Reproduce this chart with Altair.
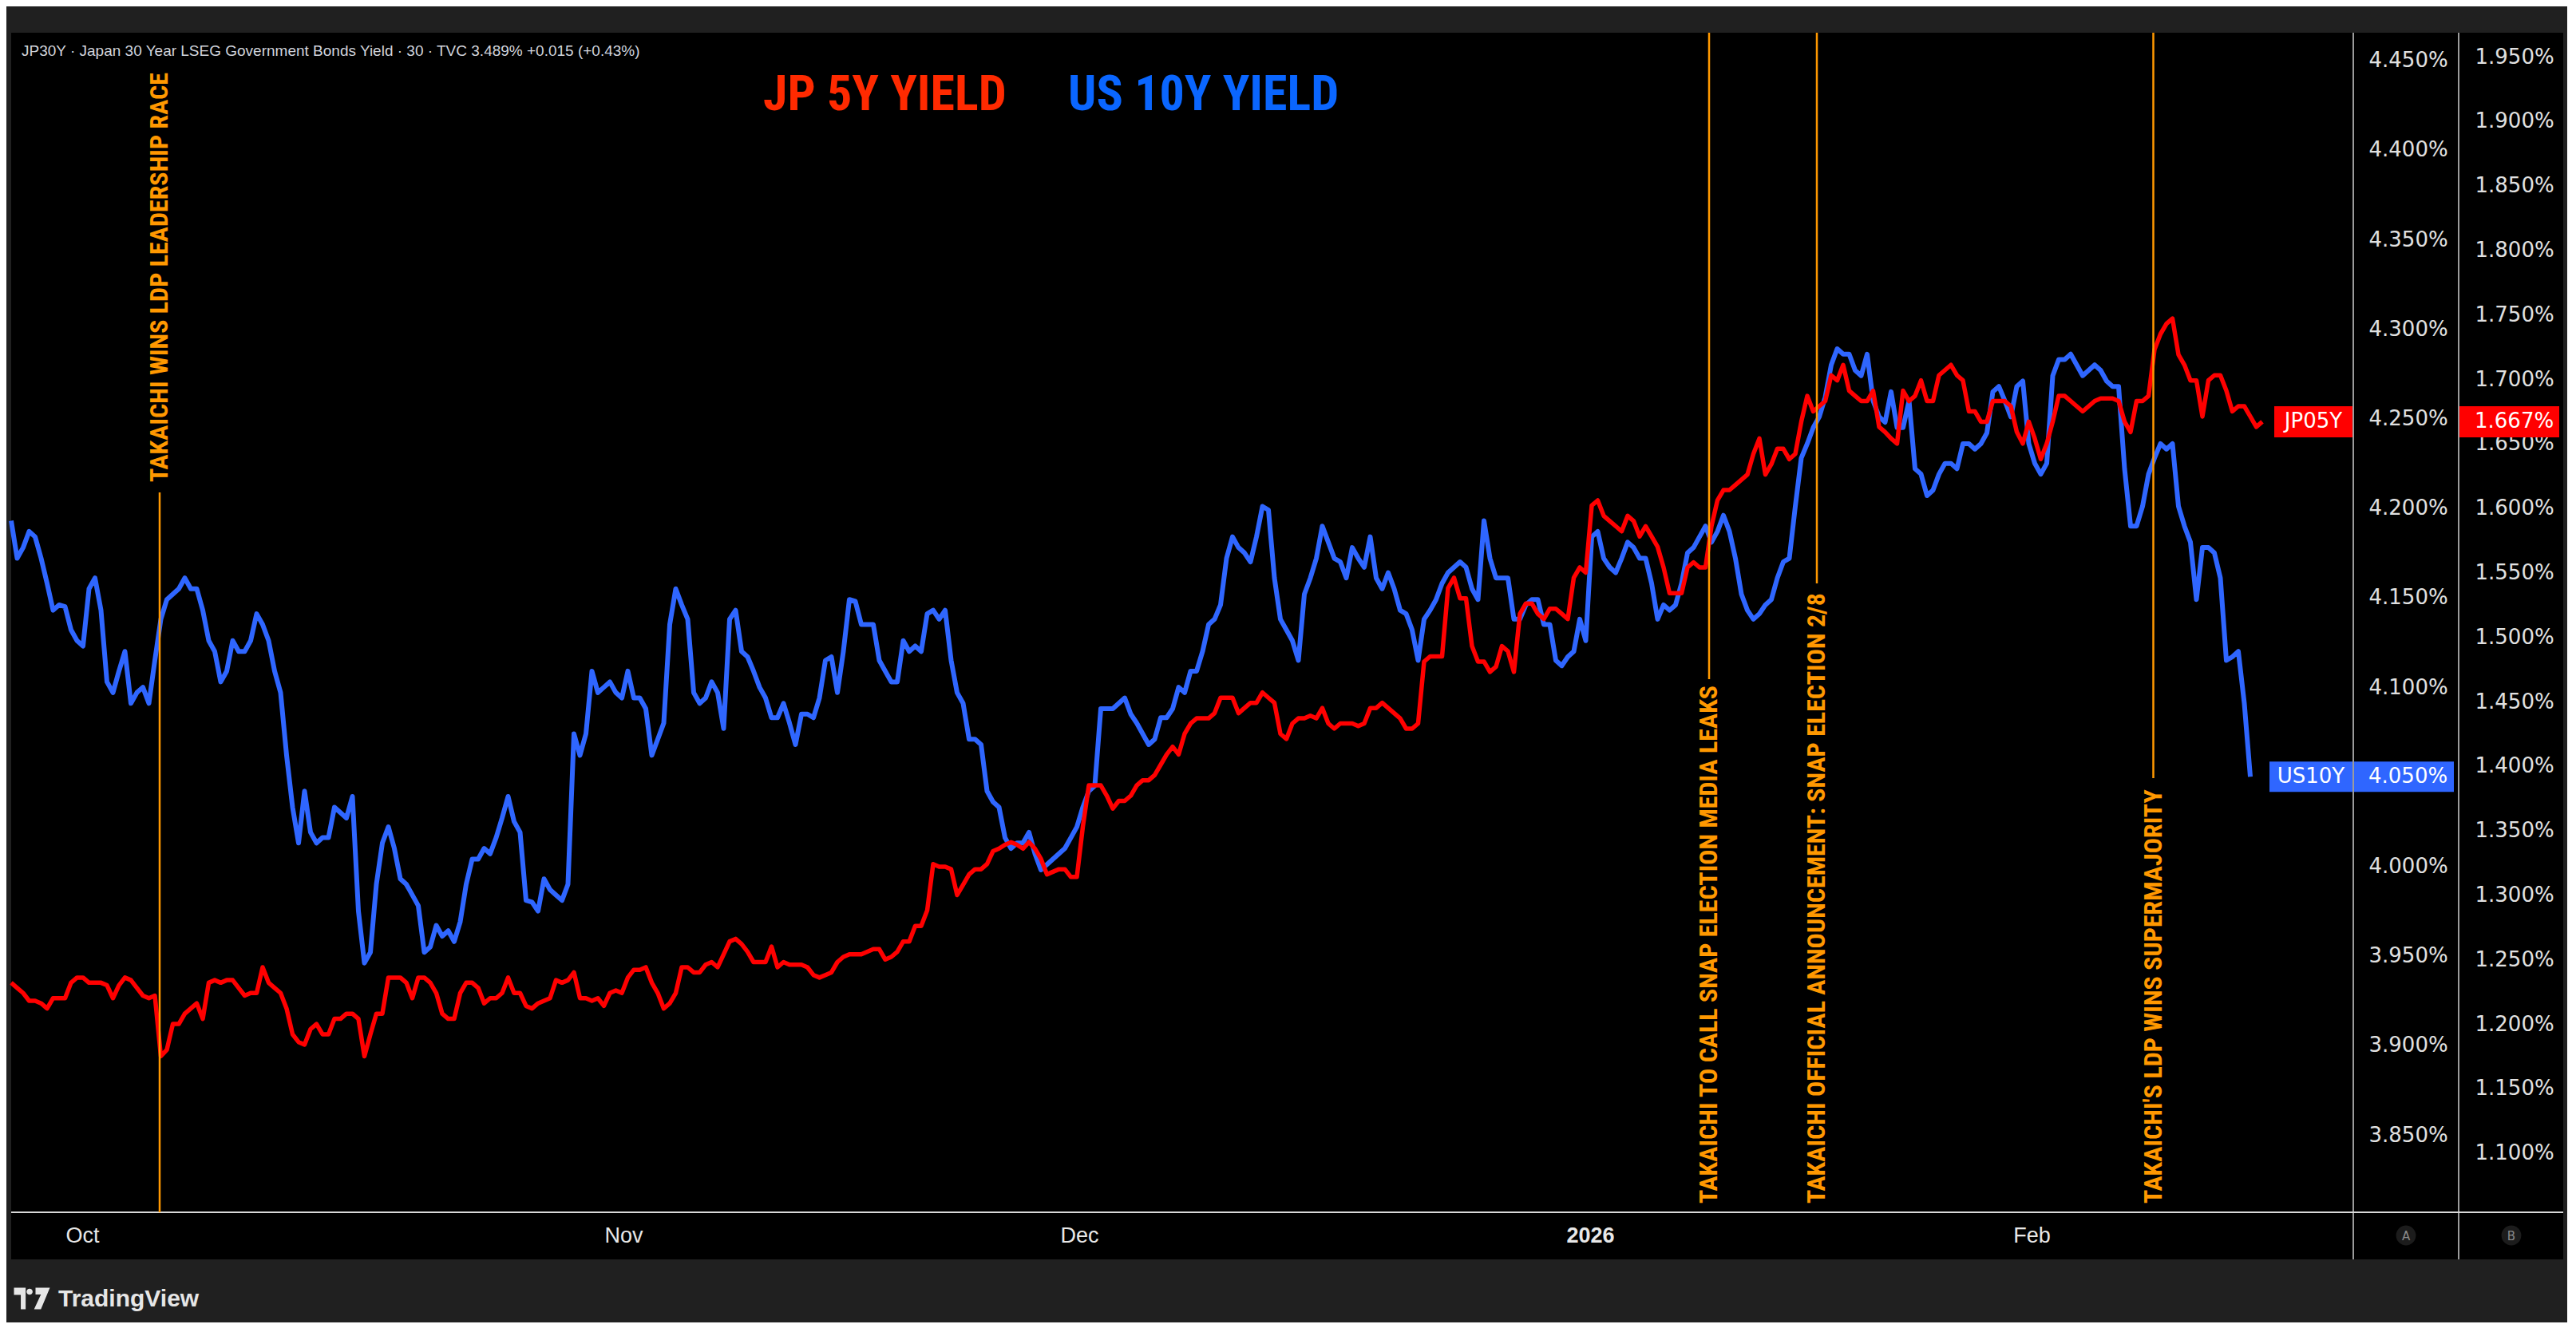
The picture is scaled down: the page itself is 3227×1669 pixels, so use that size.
import altair as alt
import pandas as pd

# ---------------- data ----------------
# values at every sample step (k = 0, 1, 2 ...)
us_vals = [
    4.193, 4.178, 4.184, 4.158, 4.146, 4.132, 4.123, 4.161, 4.103, 4.109, 4.091, 4.100, 4.115, 4.149, 4.155, 4.155, 4.143,
    4.120, 4.109, 4.120, 4.126, 4.135, 4.109, 4.062, 4.013, 4.019, 4.016, 4.033, 4.027, 3.975, 3.952, 4.013, 4.010,
    3.990, 3.978, 3.955, 3.961, 3.958, 3.990, 4.004, 4.007, 4.027, 4.025, 3.981, 3.975, 3.987, 3.981, 4.074, 4.074,
    4.097, 4.103, 4.094, 4.094, 4.088, 4.071, 4.135, 4.146, 4.097, 4.094, 4.097, 4.138, 4.120, 4.109, 4.094, 4.083, 4.080,
    4.085, 4.083, 4.115, 4.097, 4.149, 4.135, 4.135, 4.109, 4.103, 4.120, 4.120, 4.143, 4.143, 4.097, 4.071, 4.068,
    4.036, 4.016, 4.013, 4.019, 3.998, 4.004, 4.010, 4.022, 4.042, 4.088, 4.088, 4.094, 4.080, 4.068, 4.083, 4.088, 4.097,
    4.109, 4.135, 4.146, 4.184, 4.175, 4.184, 4.199, 4.138, 4.126, 4.152, 4.172, 4.181, 4.170, 4.178, 4.167, 4.161,
    4.164, 4.143, 4.132, 4.138, 4.149, 4.164, 4.170, 4.155, 4.193, 4.161, 4.161, 4.138, 4.149, 4.135, 4.115, 4.117, 4.138,
    4.184, 4.172, 4.164, 4.181, 4.172, 4.158, 4.146, 4.146, 4.175, 4.184, 4.181, 4.196, 4.172, 4.143, 4.141, 4.149,
    4.170, 4.201, 4.236, 4.251, 4.280, 4.286, 4.277, 4.286, 4.251, 4.265, 4.245, 4.222, 4.207, 4.219, 4.225, 4.236,
    4.233, 4.242, 4.268, 4.251, 4.271, 4.225, 4.225, 4.283, 4.286, 4.274, 4.280, 4.271, 4.268, 4.190, 4.201, 4.228,
    4.233, 4.201, 4.181, 4.178, 4.175, 4.115, 4.120, 4.050,
]
# values half-way between consecutive steps (k + 0.5)
us_mid = [
    4.172, 4.187, 4.172, 4.143, 4.145, 4.126, 4.155, 4.143, 4.097, 4.120, 4.097, 4.091, 4.138, 4.152, 4.161, 4.155,
    4.126, 4.103, 4.126, 4.120, 4.141, 4.126, 4.097, 4.033, 4.042, 4.013, 4.016, 4.030, 4.039, 3.946, 3.990, 4.022, 3.993,
    3.984, 3.952, 3.967, 3.964, 3.969, 4.004, 4.010, 4.016, 4.039, 4.019, 3.980, 3.993, 3.984, 3.990, 4.062, 4.109,
    4.100, 4.097, 4.109, 4.094, 4.062, 4.080, 4.155, 4.138, 4.091, 4.103, 4.077, 4.143, 4.117, 4.100, 4.083, 4.091, 4.068,
    4.085, 4.094, 4.117, 4.120, 4.148, 4.135, 4.115, 4.103, 4.126, 4.123, 4.141, 4.138, 4.115, 4.091, 4.071, 4.042,
    4.033, 4.010, 4.013, 4.007, 4.001, 4.007, 4.016, 4.033, 4.045, 4.088, 4.091, 4.085, 4.074, 4.071, 4.083, 4.100, 4.109,
    4.120, 4.138, 4.172, 4.178, 4.170, 4.201, 4.161, 4.132, 4.115, 4.161, 4.190, 4.172, 4.161, 4.172, 4.184, 4.155,
    4.155, 4.141, 4.115, 4.143, 4.158, 4.167, 4.167, 4.149, 4.172, 4.161, 4.138, 4.146, 4.149, 4.135, 4.112, 4.120,
    4.126, 4.187, 4.167, 4.172, 4.178, 4.172, 4.138, 4.143, 4.158, 4.178, 4.190, 4.187, 4.187, 4.152, 4.138, 4.146,
    4.161, 4.172, 4.228, 4.245, 4.262, 4.289, 4.286, 4.274, 4.260, 4.248, 4.245, 4.260, 4.219, 4.210, 4.225, 4.222, 4.236,
    4.236, 4.265, 4.260, 4.268, 4.236, 4.219, 4.274, 4.283, 4.280, 4.277, 4.277, 4.268, 4.222, 4.190, 4.219, 4.236,
    4.236, 4.190, 4.149, 4.178, 4.161, 4.117, 4.091,
]
jp_vals = [
    1.232, 1.224, 1.218, 1.212, 1.220, 1.232, 1.236, 1.232, 1.230, 1.230, 1.234, 1.222, 1.222, 1.180, 1.200, 1.212, 1.204,
    1.234, 1.234, 1.228, 1.224, 1.244, 1.228, 1.212, 1.186, 1.196, 1.192, 1.204, 1.208, 1.204, 1.192, 1.208, 1.236,
    1.232, 1.236, 1.232, 1.208, 1.204, 1.232, 1.228, 1.220, 1.224, 1.224, 1.214, 1.216, 1.220, 1.232, 1.240, 1.220,
    1.220, 1.224, 1.224, 1.242, 1.244, 1.224, 1.216, 1.244, 1.240, 1.246, 1.244, 1.264, 1.262, 1.248, 1.248, 1.244, 1.246,
    1.246, 1.238, 1.238, 1.248, 1.254, 1.254, 1.258, 1.250, 1.256, 1.264, 1.276, 1.324, 1.322, 1.300, 1.316, 1.320,
    1.334, 1.339, 1.339, 1.341, 1.328, 1.318, 1.320, 1.314, 1.385, 1.385, 1.367, 1.373, 1.385, 1.389, 1.401, 1.415, 1.425,
    1.437, 1.437, 1.453, 1.453, 1.445, 1.449, 1.453, 1.425, 1.433, 1.437, 1.437, 1.433, 1.433, 1.433, 1.433, 1.445,
    1.445, 1.437, 1.429, 1.481, 1.485, 1.538, 1.530, 1.493, 1.481, 1.477, 1.489, 1.518, 1.526, 1.514, 1.522, 1.514, 1.554,
    1.602, 1.594, 1.586, 1.594, 1.578, 1.578, 1.554, 1.534, 1.554, 1.554, 1.586, 1.614, 1.618, 1.626, 1.654, 1.634,
    1.646, 1.642, 1.687, 1.679, 1.703, 1.711, 1.687, 1.683, 1.663, 1.654, 1.691, 1.687, 1.683, 1.703, 1.711, 1.699,
    1.675, 1.667, 1.683, 1.679, 1.650, 1.654, 1.650, 1.687, 1.683, 1.675, 1.683, 1.685, 1.683, 1.659, 1.683, 1.723,
    1.743, 1.719, 1.699, 1.671, 1.703, 1.691, 1.679, 1.671, 1.667,
]
jp_mid = [
    1.228, 1.218, 1.216, 1.220, 1.220, 1.236, 1.232, 1.232, 1.220, 1.236, 1.228, 1.220, 1.175, 1.200, 1.208, 1.216,
    1.232, 1.232, 1.234, 1.222, 1.224, 1.232, 1.224, 1.192, 1.184, 1.200, 1.192, 1.204, 1.208, 1.175, 1.208, 1.236, 1.236,
    1.220, 1.236, 1.224, 1.204, 1.224, 1.232, 1.216, 1.220, 1.236, 1.224, 1.212, 1.218, 1.234, 1.234, 1.220, 1.218,
    1.214, 1.226, 1.236, 1.242, 1.232, 1.212, 1.224, 1.244, 1.240, 1.248, 1.254, 1.266, 1.256, 1.248, 1.260, 1.248, 1.246,
    1.244, 1.236, 1.240, 1.252, 1.254, 1.256, 1.258, 1.252, 1.264, 1.276, 1.288, 1.322, 1.320, 1.308, 1.320, 1.324,
    1.336, 1.341, 1.336, 1.336, 1.316, 1.320, 1.314, 1.353, 1.385, 1.377, 1.373, 1.377, 1.389, 1.393, 1.409, 1.409, 1.433,
    1.437, 1.441, 1.453, 1.441, 1.449, 1.457, 1.449, 1.421, 1.437, 1.439, 1.445, 1.429, 1.433, 1.431, 1.445, 1.449,
    1.441, 1.429, 1.433, 1.485, 1.485, 1.546, 1.530, 1.481, 1.473, 1.493, 1.473, 1.526, 1.518, 1.522, 1.518, 1.546,
    1.550, 1.606, 1.590, 1.582, 1.590, 1.586, 1.570, 1.534, 1.534, 1.558, 1.554, 1.606, 1.614, 1.622, 1.642, 1.626,
    1.646, 1.638, 1.667, 1.675, 1.683, 1.699, 1.691, 1.683, 1.691, 1.659, 1.650, 1.683, 1.699, 1.683, 1.707, 1.703, 1.675,
    1.667, 1.683, 1.683, 1.659, 1.667, 1.638, 1.667, 1.687, 1.679, 1.679, 1.685, 1.685, 1.667, 1.683, 1.687, 1.735,
    1.747, 1.711, 1.699, 1.699, 1.703, 1.675, 1.679, 1.663,
]
month_labels = ["Oct", "Nov", "Dec", "2026", "Feb"]
month_pos = [5.93, 51.13, 89.2, 131.87, 168.73]
us_ticks = [3.85, 3.90, 3.95, 4.00, 4.05, 4.10, 4.15, 4.20, 4.25, 4.30, 4.35, 4.40, 4.45]
jp_ticks = [1.10, 1.15, 1.20, 1.25, 1.30, 1.35, 1.40, 1.45, 1.50, 1.55, 1.60, 1.65, 1.70, 1.75, 1.80, 1.85, 1.90, 1.95]
event_pos = [12.4, 141.8, 150.8, 178.9]
event_labels = [
    "TAKAICHI WINS LDP LEADERSHIP RACE",
    "TAKAICHI TO CALL SNAP ELECTION MEDIA LEAKS",
    "TAKAICHI OFFICIAL ANNOUNCEMENT: SNAP ELECTION 2/8",
    "TAKAICHI'S LDP WINS SUPERMAJORITY",
]
us_name = "US10Y"
jp_name = "JP05Y"
title_jp = "JP 5Y YIELD"
title_us = "US 10Y YIELD"
header_text = "JP30Y \u00b7 Japan 30 Year LSEG Government Bonds Yield \u00b7 30 \u00b7 TVC  3.489%  +0.015 (+0.43%)"

# ---------------- styling ----------------
BLUE = "#2F66FF"
RED = "#FF0000"
ORANGE = "#FF9800"
GRAY_BG = "#202020"
COND = "Roboto Condensed, DejaVu Sans Condensed, Liberation Sans Narrow, Noto Sans Condensed, sans-serif"
AXFONT = "DejaVu Sans"

W, H = 2934, 1478
X_DOMAIN = [0, 195.6]
US_DOMAIN = [3.8068, 4.4655]
JP_DOMAIN = [1.054, 1.9686]


def series_frame(vals, mids):
    rows = []
    for i, v in enumerate(vals):
        rows.append((float(i), v))
        if i < len(mids):
            rows.append((i + 0.5, mids[i]))
    return pd.DataFrame(rows, columns=["k", "v"])


us_df = series_frame(us_vals, us_mid)
jp_df = series_frame(jp_vals, jp_mid)
us_last = pd.DataFrame({"v": [us_vals[-1]], "name": [us_name], "lab": [f"{us_vals[-1]:.3f}%"]})
jp_last = pd.DataFrame({"v": [jp_vals[-1]], "name": [jp_name], "lab": [f"{jp_vals[-1]:.3f}%"]})
one = pd.DataFrame({"a": [0]})

# x axis label expression built from the month lists
expr = f"'{month_labels[-1]}'"
for i in range(len(month_labels) - 2, -1, -1):
    mid = (month_pos[i] + month_pos[i + 1]) / 2
    expr = f"datum.value < {mid:.2f} ? '{month_labels[i]}' : " + expr
bold_test = f"abs(datum.value - {month_pos[3]}) < 0.5"

x_enc = alt.X(
    "k:Q",
    scale=alt.Scale(domain=X_DOMAIN, nice=False, zero=False),
    axis=alt.Axis(values=month_pos, labelExpr=expr, title=None, grid=False, domain=False,
                  ticks=False, tickSize=0, labelPadding=29, labelBaseline="middle",
                  labelAlign="center", labelFont="Liberation Sans", labelFontSize=27,
                  labelColor="#e8e8e8", labelFlush=False, labelOverlap=False,
                  labelFontWeight={"condition": {"test": bold_test, "value": "bold"}, "value": "normal"}),
)


def y_enc(domain, ticks, offset, pad):
    return alt.Y(
        "v:Q",
        scale=alt.Scale(domain=domain, nice=False, zero=False),
        axis=alt.Axis(orient="right", values=ticks, offset=offset,
                      labelExpr="format(datum.value, '.3f') + '%'",
                      title=None, grid=False, domain=False, ticks=False, tickSize=0,
                      labelAlign="left", labelBaseline="middle", labelPadding=pad,
                      labelFont=AXFONT, labelFontSize=26, labelColor="#e0e0e0",
                      labelFlush=False, labelOverlap=False),
    )


y_us = y_enc(US_DOMAIN, us_ticks, 0, 19)
y_jp = y_enc(JP_DOMAIN, jp_ticks, 132, 20)


def rect_shape(w, h):
    r = h / w
    return f"M-1,-{r:.3f}L1,-{r:.3f}L1,{r:.3f}L-1,{r:.3f}Z"


def badge(df, y, color, xc, w, h):
    return alt.Chart(df).mark_point(shape=rect_shape(w, h), size=w * w, filled=True,
                                    color=color, opacity=1, strokeWidth=0).encode(
        x=alt.value(xc), y=y)


def badge_text(df, y, field, x, align):
    return alt.Chart(df).mark_text(font=AXFONT, fontSize=26, color="#ffffff",
                                   align=align, baseline="middle").encode(
        x=alt.value(x), y=y, text=alt.Text(f"{field}:N"))


us_line = alt.Chart(us_df).mark_line(color=BLUE, strokeWidth=6, strokeJoin="round").encode(x=x_enc, y=y_us)
jp_line = alt.Chart(jp_df).mark_line(color=RED, strokeWidth=5.5, strokeJoin="round").encode(x=x_enc, y=y_jp)

us_group = alt.layer(
    us_line,
    badge(us_last, y_us, BLUE, 2881, 104, 38),
    badge_text(us_last, y_us, "name", 2881, "center"),
    badge(us_last, y_us, BLUE, 2997.5, 125, 38),
    badge_text(us_last, y_us, "lab", 2953, "left"),
)
jp_group = alt.layer(
    jp_line,
    badge(jp_last, y_jp, RED, 2884, 98, 39),
    badge_text(jp_last, y_jp, "name", 2884, "center"),
    badge(jp_last, y_jp, RED, 3129.5, 125, 39),
    badge_text(jp_last, y_jp, "lab", 3086, "left"),
)


def vrect(x1, x2, y1, y2, color):
    return alt.Chart(one).mark_rect(color=color).encode(
        x=alt.value(x1), x2=alt.value(x2), y=alt.value(y1), y2=alt.value(y2))


def vrule(x1, x2, y1, y2, color, sw):
    return alt.Chart(one).mark_rule(color=color, strokeWidth=sw).encode(
        x=alt.value(x1), x2=alt.value(x2), y=alt.value(y1), y2=alt.value(y2))


frame = [
    vrect(-6, 3202, -33, 0, GRAY_BG),
    vrect(-6, 0, 0, 1537, GRAY_BG),
    vrect(3197, 3202, 0, 1537, GRAY_BG),
    vrect(-6, 3202, 1537, 1616, GRAY_BG),
]
dividers = [
    vrule(2934, 2934, 0, 1537, "#cfcfcf", 1.5),
    vrule(3066, 3066, 0, 1537, "#cfcfcf", 1.5),
    vrule(0, 3197, 1478, 1478, "#d9d9d9", 2),
]

# event annotations (layout: rule extent and text anchor, in pixels)
event_layout = [(576, 1478, 563), (0, 810, 1467), (0, 690, 1467), (0, 934, 1467)]
events = []
for pos, lab, (ya, yb, yt) in zip(event_pos, event_labels, event_layout):
    events.append(alt.Chart(one).mark_rule(color=ORANGE, strokeWidth=2.5).encode(
        x=alt.datum(pos), y=alt.value(ya), y2=alt.value(yb)))
    events.append(alt.Chart(one).mark_text(angle=270, align="left", baseline="middle",
                                           font=COND, fontSize=32, fontWeight="bold",
                                           color=ORANGE).encode(
        x=alt.datum(pos), y=alt.value(yt), text=alt.datum(lab)))


def vtext(x, y, txt, **kw):
    return alt.Chart(one).mark_text(**kw).encode(x=alt.value(x), y=alt.value(y), text=alt.datum(txt))


decor = [
    vtext(942, 97, title_jp, font=COND, fontSize=62, fontWeight="bold", color="#FF2A00",
          align="left", baseline="alphabetic"),
    vtext(1324, 97, title_us, font=COND, fontSize=62, fontWeight="bold", color="#0A66FF",
          align="left", baseline="alphabetic"),
    vtext(13, 23, header_text, font="Liberation Sans", fontSize=19, color="#d1d4dc",
          align="left", baseline="middle"),
    alt.Chart(one).mark_point(shape="circle", filled=True, size=616, color="#1c1c1c", opacity=1).encode(
        x=alt.value(3000), y=alt.value(1507)),
    alt.Chart(one).mark_point(shape="circle", filled=True, size=616, color="#1c1c1c", opacity=1).encode(
        x=alt.value(3132), y=alt.value(1507)),
    vtext(3000, 1508, "A", font=AXFONT, fontSize=15, color="#8a8a8a", align="center", baseline="middle"),
    vtext(3132, 1508, "B", font=AXFONT, fontSize=15, color="#8a8a8a", align="center", baseline="middle"),
    alt.Chart(one).mark_point(
        shape=("M-1,-0.6L-0.35,-0.6L-0.35,0.6L-0.62,0.6L-0.62,-0.2L-1,-0.2Z "
               "M-0.3,-0.38A0.17,0.17 0 1,0 0.04,-0.38A0.17,0.17 0 1,0 -0.3,-0.38Z "
               "M0.2,-0.6L1,-0.6L0.5,0.6L0.12,0.6L0.5,-0.22L0.2,-0.22Z"),
        size=2025, filled=True, color="#e6e6e6", opacity=1, strokeWidth=0).encode(
        x=alt.value(26), y=alt.value(1586)),
    vtext(59, 1587, "TradingView", font="Liberation Sans", fontSize=30, fontWeight="bold",
          color="#e6e6e6", align="left", baseline="middle"),
]

chart = alt.layer(*frame, *dividers, us_group, jp_group, *events, *decor).resolve_scale(
    y="independent"
).properties(
    width=W, height=H,
    padding={"left": 6, "top": 33, "right": 268, "bottom": 138},
    autosize=alt.AutoSizeParams(type="none"),
    background="#000000",
).configure_view(strokeWidth=0)

chart.save("out.html", embed_options={"renderer": "svg", "actions": False})
